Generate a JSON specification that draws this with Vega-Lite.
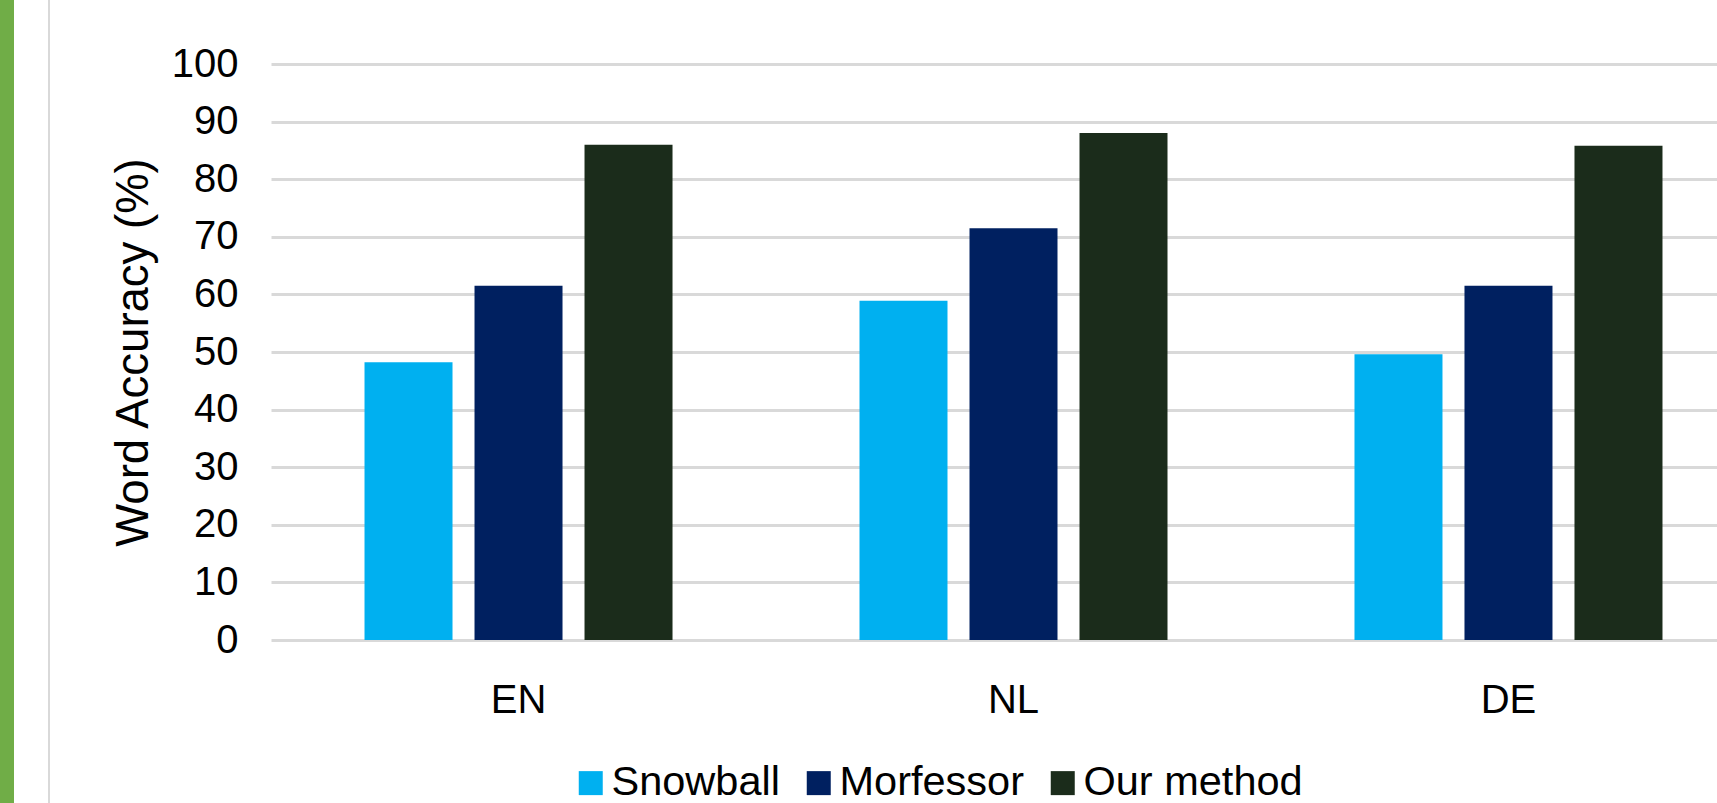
{
  "$schema": "https://vega.github.io/schema/vega-lite/v6.json",
  "padding": 0,
  "background": "white",
  "config": {
    "view": {"stroke": null},
    "font": "Liberation Sans"
  },
  "bounds": "flush",
  "spacing": 34,
  "hconcat": [
    {
      "width": 14,
      "height": 803,
      "data": {"values": [{"part": "accent"}]},
      "mark": {"type": "rect", "fill": "#70AD47"},
      "encoding": {}
    },
    {
      "bounds": "flush",
      "spacing": 221,
      "hconcat": [
        {
          "width": 2,
          "height": 803,
          "data": {"values": [{"part": "divider"}]},
          "mark": {"type": "rect", "fill": "#D9D9D9"},
          "encoding": {}
        },
        {
          "width": 1446,
          "height": 640,
          "data": {
            "values": [
              {"language": "EN", "method": "Snowball", "accuracy": 48.2},
              {"language": "EN", "method": "Morfessor", "accuracy": 61.5},
              {"language": "EN", "method": "Our method", "accuracy": 86.0},
              {"language": "NL", "method": "Snowball", "accuracy": 58.9},
              {"language": "NL", "method": "Morfessor", "accuracy": 71.5},
              {"language": "NL", "method": "Our method", "accuracy": 88.0},
              {"language": "DE", "method": "Snowball", "accuracy": 49.6},
              {"language": "DE", "method": "Morfessor", "accuracy": 61.5},
              {"language": "DE", "method": "Our method", "accuracy": 85.8}
            ]
          },
          "mark": {"type": "bar"},
          "encoding": {
            "x": {
              "field": "language",
              "type": "nominal",
              "sort": ["EN", "NL", "DE"],
              "scale": {"range": [0, 1485], "paddingInner": 0.3333, "paddingOuter": 0.1667},
              "axis": {
                "title": null,
                "domain": false,
                "ticks": false,
                "tickSize": 0,
                "labelAngle": 0,
                "labelFont": "Liberation Sans",
                "labelFontSize": 40,
                "labelColor": "#000000",
                "labelPadding": 40
              }
            },
            "xOffset": {
              "field": "method",
              "type": "nominal",
              "sort": ["Snowball", "Morfessor", "Our method"],
              "scale": {"paddingInner": 0.2, "paddingOuter": 0.1}
            },
            "y": {
              "field": "accuracy",
              "type": "quantitative",
              "scale": {"domain": [0, 100], "range": [640, 64], "nice": false},
              "axis": {
                "title": "Word Accuracy (%)",
                "titleFont": "Liberation Sans",
                "titleFontSize": 45.5,
                "titleFontWeight": "normal",
                "titleColor": "#000000",
                "titlePadding": 14,
                "values": [0, 10, 20, 30, 40, 50, 60, 70, 80, 90, 100],
                "domain": false,
                "ticks": false,
                "tickSize": 0,
                "labelFont": "Liberation Sans",
                "labelFontSize": 40,
                "labelColor": "#000000",
                "labelPadding": 33,
                "grid": true,
                "gridColor": "#D9D9D9",
                "gridWidth": 3
              }
            },
            "color": {
              "field": "method",
              "type": "nominal",
              "sort": ["Snowball", "Morfessor", "Our method"],
              "scale": {
                "domain": ["Snowball", "Morfessor", "Our method"],
                "range": ["#00B0F0", "#002060", "#1B2C1B"]
              },
              "legend": {
                "orient": "none",
                "direction": "horizontal",
                "legendX": 570,
                "legendY": 762,
                "title": null,
                "padding": 0,
                "symbolType": "square",
                "symbolSize": 576,
                "symbolStrokeWidth": 0,
                "symbolOpacity": 1,
                "labelFont": "Liberation Sans",
                "labelFontSize": 41.5,
                "labelColor": "#000000",
                "labelLimit": 400,
                "labelOffset": 0,
                "columnPadding": 18
              }
            }
          }
        }
      ]
    }
  ]
}
